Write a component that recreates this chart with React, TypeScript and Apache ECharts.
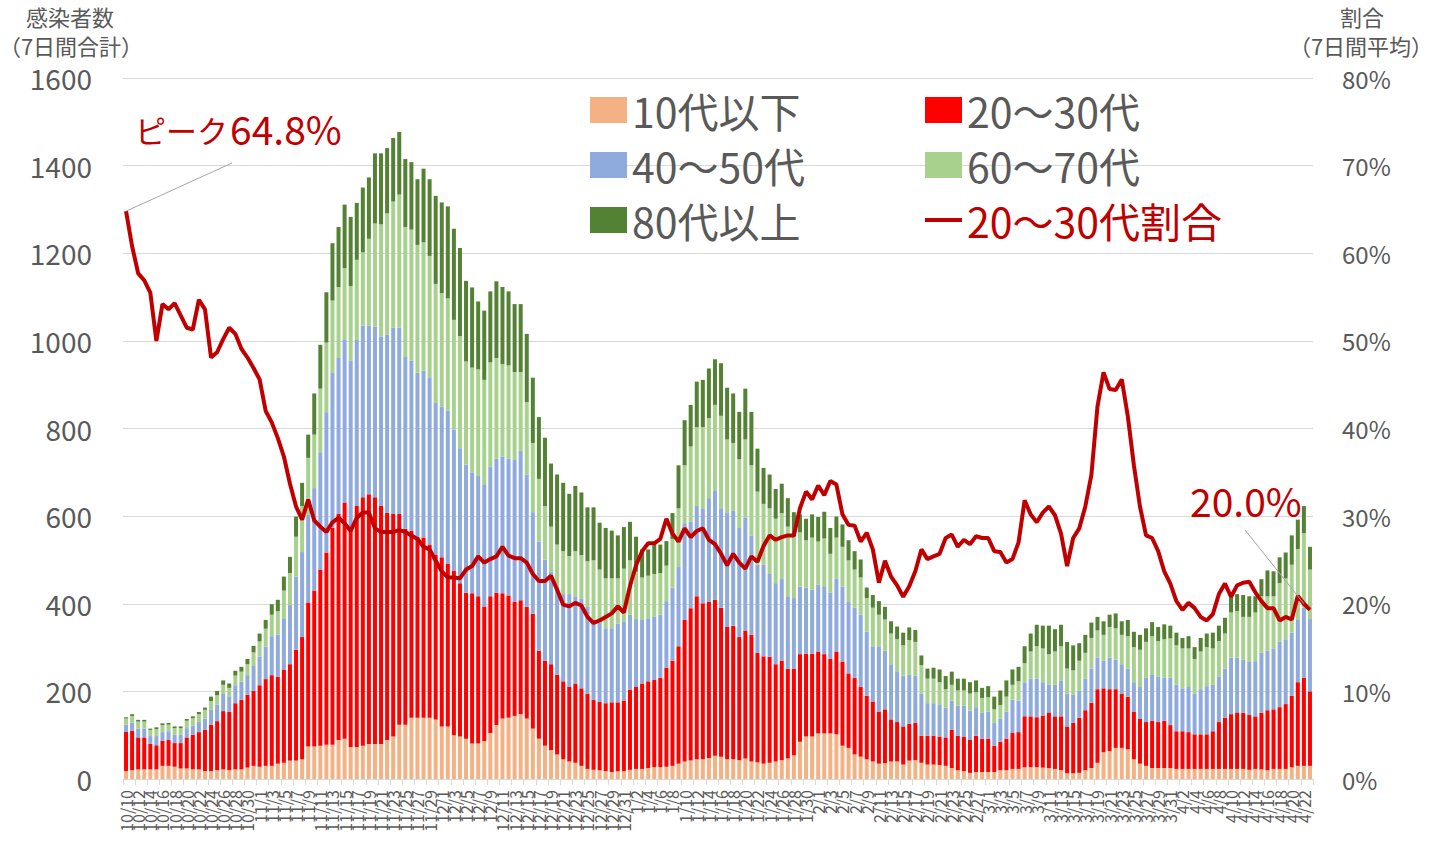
import React, { useEffect, useRef } from 'react';
import * as echarts from 'echarts';

// month, first day, last day (2020-10-10 .. 2021-04-23)
const monthSpans: number[][] = [[10, 10, 31], [11, 1, 30], [12, 1, 31], [1, 1, 31], [2, 1, 28], [3, 1, 31], [4, 1, 23]];
const categories: string[] = [];
monthSpans.forEach(([m, a, b]) => { for (let d = a; d <= b; d++) categories.push(`${m}/${d}`); });

const seriesNames = ['10代以下', '20～30代', '40～50代', '60～70代', '80代以上'];
const seriesColors = ['#F4B183', '#FF0000', '#8FAADC', '#A9D18E', '#548235'];
const lineName = '20～30代割合';

const teens = [
  18,20,22,22,22,22,30,30,28,24, 24,22,22,18,18,20,22,20,22,22, 26,30,28,30,30,35,37,42,42,45,
  74,74,76,78,78,89,92,73,73,76, 80,80,80,89,97,124,124,140,140,140, 140,136,120,120,100,97,92,81,81,87,
  105,123,138,140,144,148,138,115,92,76, 66,56,45,40,37,30,23,21,20,18, 16,18,18,21,23,23,25,27,27,28,
  30,35,40,42,45,45,48,53,51,45, 45,43,47,40,38,35,37,40,43,47, 54,85,97,97,104,104,104,102,76,71,
  56,51,45,40,35,36,40,40,33,42, 43,37,33,33,32,30,25,20,18,14, 16,16,16,16,20,20,23,23,27,27,
  27,26,25,23,20,13,13,14,20,25, 37,61,64,71,71,68,45,35,30,25, 25,25,25,23,23,23,23,23,23,23,
  23,23,23,23,23,21,23,22,20,23, 23,23,27,30,30,30,
];
const age2030 = [
  89,90,73,73,58,55,57,59,54,58, 71,79,85,94,106,112,133,133,151,159, 166,171,186,198,207,198,213,220,253,279,
  329,356,402,439,496,516,539,503,550,567, 570,563,543,518,508,481,447,426,413,411, 395,375,386,371,376,350,333,343,336,307,
  312,302,286,279,260,260,255,262,201,194, 196,182,178,170,181,177,172,160,156,155, 159,157,161,183,187,195,198,199,204,226,
  240,268,323,348,372,356,356,356,340,302, 305,281,292,289,250,245,242,222,227,205, 198,200,189,189,187,181,170,189,192,170,
  175,159,145,137,119,123,96,90,87,84, 85,62,66,66,65,65,87,79,79,75, 83,76,76,60,65,72,82,84,116,116,
  114,119,127,120,123,107,115,126,137,149, 168,146,141,134,124,120,109,103,100,108, 105,108,98,86,86,84,79,79,79,86,
  107,117,125,129,128,125,120,129,137,136, 141,148,163,191,201,170,
];
const age4050 = [
  17,19,20,20,18,21,20,20,19,19, 21,21,23,26,35,38,39,36,41,41, 45,57,65,74,89,97,117,135,167,194,
  200,234,268,320,353,356,371,379,379,392, 385,390,387,407,425,425,392,389,374,381, 382,349,344,350,322,308,293,276,276,277,
  296,306,312,312,324,341,302,232,249,231, 211,201,199,212,199,204,199,182,181,171, 169,180,181,171,155,145,144,144,144,152,
  167,181,221,197,206,217,237,250,227,260, 262,249,258,227,201,209,189,185,188,165, 161,154,151,146,153,155,151,167,171,163,
  160,165,146,126,149,134,126,116,116,112, 108,96,74,74,72,68,67,68,70,67, 65,59,62,52,53,62,76,72,78,86,
  88,76,63,72,82,75,64,62,72,78, 72,63,72,67,67,64,67,72,101,106, 103,98,108,106,98,103,93,103,110,106,
  103,112,129,125,121,121,126,137,136,139, 149,148,144,142,160,165,
];
const age6070 = [
  14,15,16,16,14,16,16,15,15,15, 17,17,18,20,19,21,21,19,22,23, 25,31,35,41,49,53,63,73,91,105,
  130,122,145,159,165,162,164,170,183,167, 198,235,256,277,288,304,297,299,292,293, 277,270,259,256,250,256,235,239,242,240,
  238,230,211,213,201,180,165,158,143,122, 103,96,98,87,103,100,103,136,121,114, 114,103,120,124,108,97,97,98,95,81,
  111,134,132,172,180,185,183,195,211,168, 155,157,178,160,167,139,150,147,149,159, 140,124,108,119,98,109,89,93,91,95,
  87,85,77,88,72,71,70,73,69,79, 77,65,56,56,52,42,36,35,35,39, 34,34,33,31,31,34,34,44,43,62,
  74,77,70,76,78,57,56,68,59,70, 62,59,70,72,67,74,80,85,82,87, 82,88,90,90,91,88,79,86,89,83,
  82,80,103,106,98,103,111,129,124,119, 134,139,155,162,170,113,
];
const age80 = [
  3,4,4,4,3,4,4,4,4,4, 4,4,5,5,10,10,10,10,11,11, 12,15,18,20,24,26,32,37,46,53,
  53,94,100,115,131,137,145,158,130,148, 140,160,162,149,145,143,155,154,150,168, 175,201,207,210,208,201,184,183,155,158,
  162,175,176,169,155,155,156,149,141,156, 144,160,156,142,149,143,123,121,107,115, 109,98,95,88,80,64,60,70,65,56,
  59,98,103,95,104,108,113,104,120,118, 113,108,116,122,98,82,77,68,67,65, 56,41,49,53,56,61,59,48,51,46,
  42,41,24,29,31,29,28,29,29,29, 27,22,23,25,29,30,30,27,27,26, 27,23,25,29,33,37,35,33,39,41,
  49,52,65,51,49,61,57,40,41,35, 31,31,28,34,31,37,35,34,31,32, 32,34,29,29,24,28,27,31,31,36,
  35,36,40,39,50,47,37,39,59,57, 59,59,67,67,62,52,
];
// 20～30代割合 (%), 7-day average
const ratio2030 = [
  64.8,60.8,57.7,56.9,55.5,50.0,54.2,53.6,54.3,52.9, 51.5,51.3,54.7,53.6,48.1,48.7,50.2,51.5,50.8,49.1,
  48.1,46.9,45.6,42.0,40.7,38.9,36.8,33.7,31.1,29.6, 31.9,29.5,
  28.8,28.2,29.3,29.8,29.2,28.3,29.8,30.4,30.4,28.6, 28.2,28.2,28.2,28.4,28.2,27.8,27.4,26.5,26.2,24.9,
  23.7,23.0,23.0,22.9,23.9,24.3,25.4,24.7,25.1,25.4, 26.5,
  25.5,25.2,25.2,24.7,23.4,22.6,22.6,23.2,21.6,19.9, 19.7,20.1,19.8,18.5,17.8,18.1,18.5,18.9,19.7,19.0,
  22.0,24.4,26.0,26.9,26.9,27.4,29.7,28.0,27.1,28.6, 27.6,28.3,
  28.6,27.3,26.8,25.7,24.4,25.7,24.7,24.0,25.4,24.8, 26.6,27.8,27.3,27.6,27.8,27.8,30.9,32.8,31.9,33.5,
  32.4,34.0,33.6,30.2,29.0,28.9,27.1,28.1,26.2,22.4, 24.9,
  23.1,22.1,20.8,22.0,23.7,26.2,25.1,25.4,25.7,27.5, 27.9,26.5,27.3,26.8,27.7,27.5,27.5,26.0,25.9,24.7,
  25.1,27.0,31.8,30.2,29.3,30.4,31.1,30.1,28.0,24.3, 27.5,
  28.6,31.1,34.7,42.5,46.4,44.5,44.4,45.6,41.4,35.8, 31.1,27.8,27.5,26.0,23.7,22.3,20.3,19.3,20.1,19.5,
  18.5,18.1,18.8,21.1,22.3,20.8,22.1,22.4,22.5,21.3, 20.3,19.5,19.5,18.1,18.5,18.2,20.9,20.0,19.3,
];
const ageData = [teens, age2030, age4050, age6070, age80];
const leftTicks = { min: 0, max: 1600, interval: 200 };
const rightTicks = { min: 0, max: 80, interval: 10 };
const peakIndex = 0;
const lastLabelIndex = 194;

const FONT = "'Noto Sans CJK JP', 'Noto Sans', sans-serif";
const GRAY = '#595959';
const DARKRED = '#C00000';

export default function App() {
  const ref = useRef<HTMLDivElement>(null);
  useEffect(() => {
    document.body.style.margin = '0';
    const chart = echarts.init(ref.current!, null, { renderer: 'svg' });
    const bars = seriesNames.map((name, i) => ({
      name,
      type: 'bar',
      stack: 'total',
      barWidth: 4,
      data: ageData[i],
      itemStyle: { color: seriesColors[i] },
      emphasis: { disabled: true },
    }));
    const legendText = { fontSize: 41, color: GRAY, fontFamily: FONT, lineHeight: 44 };
    const everyOther = (i: number) => i % 2 === 0;
    const labelStyle = { rotate: 90, fontSize: 16, color: GRAY, margin: 11, fontFamily: FONT };
    chart.setOption({
      animation: false,
      backgroundColor: '#ffffff',
      textStyle: { fontFamily: FONT },
      grid: { left: 123, right: 129, top: 78, bottom: 64, containLabel: false },
      legend: [
        {
          orient: 'vertical', left: 590, top: 88, itemWidth: 37, itemHeight: 26, itemGap: 11,
          padding: 0, selectedMode: false, textStyle: legendText,
          data: [seriesNames[0], seriesNames[2], seriesNames[4]].map((n) => ({ name: n, icon: 'rect' })),
        },
        {
          orient: 'vertical', left: 925, top: 88, itemWidth: 37, itemHeight: 26, itemGap: 11,
          padding: 0, selectedMode: false, textStyle: legendText,
          data: [
            { name: seriesNames[1], icon: 'rect' },
            { name: seriesNames[3], icon: 'rect' },
            {
              name: lineName, icon: 'path://M0,0H20V2.2H0Z',
              itemStyle: { color: DARKRED, borderWidth: 0 },
              textStyle: { color: DARKRED },
            },
          ],
        },
      ],
      xAxis: [
        {
          type: 'category',
          data: categories,
          boundaryGap: true,
          position: 'bottom',
          axisLine: { lineStyle: { color: '#d9d9d9', width: 1 } },
          axisTick: { show: true, interval: everyOther, length: 6, lineStyle: { color: '#d9d9d9' } },
          axisLabel: { ...labelStyle, interval: everyOther },
          splitLine: { show: false },
        },
        {
          // carries the first and last date labels, which the main axis drops as overlapping
          type: 'category',
          data: categories,
          boundaryGap: true,
          position: 'bottom',
          offset: 0,
          axisLine: { show: false },
          axisTick: { show: false },
          axisLabel: {
            ...labelStyle,
            interval: (i: number) => i === 0 || i === lastLabelIndex,
            showMinLabel: true,
          },
          splitLine: { show: false },
        },
      ],
      yAxis: [
        {
          type: 'value', ...leftTicks,
          axisLine: { show: false }, axisTick: { show: false },
          axisLabel: { fontSize: 28, color: GRAY, margin: 31, fontFamily: FONT, formatter: (v: number) => String(v) },
          splitLine: { lineStyle: { color: '#d9d9d9', width: 1 } },
        },
        {
          type: 'value', ...rightTicks,
          axisLine: { show: false }, axisTick: { show: false },
          axisLabel: { fontSize: 24, color: GRAY, margin: 29, fontFamily: FONT, formatter: '{value}%' },
          splitLine: { show: false },
        },
      ],
      series: [
        ...bars,
        {
          name: lineName,
          type: 'line',
          yAxisIndex: 1,
          data: ratio2030,
          symbol: 'none',
          itemStyle: { color: DARKRED },
          lineStyle: { color: DARKRED, width: 4 },
          emphasis: { disabled: true },
          z: 5,
        },
      ],
    });

    const p0 = chart.convertToPixel({ seriesIndex: 5 }, [peakIndex, ratio2030[peakIndex]]) as number[];
    const p1 = chart.convertToPixel({ seriesIndex: 5 }, [lastLabelIndex, ratio2030[lastLabelIndex]]) as number[];
    const titleStyle = { fontSize: 22, fontFamily: FONT, fill: GRAY, align: 'center', verticalAlign: 'middle' };
    chart.setOption({
      graphic: [
        { type: 'text', x: 70, y: 16, z: 50, style: { ...titleStyle, text: '感染者数' } },
        { type: 'text', x: 71, y: 45, z: 50, style: { ...titleStyle, text: '（7日間合計）' } },
        { type: 'text', x: 1362, y: 16, z: 50, style: { ...titleStyle, text: '割合' } },
        { type: 'text', x: 1361, y: 45, z: 50, style: { ...titleStyle, text: '（7日間平均）' } },
        {
          type: 'text', x: 135, y: 129, z: 50,
          style: { text: 'ピーク', fontSize: 31, fontFamily: FONT, fill: DARKRED, align: 'left', verticalAlign: 'middle' },
        },
        {
          type: 'text', x: 230, y: 128, z: 50,
          style: { text: ratio2030[peakIndex].toFixed(1) + '%', fontSize: 39, fontFamily: FONT, fill: DARKRED, align: 'left', verticalAlign: 'middle' },
        },
        {
          type: 'text', x: 1190, y: 500, z: 50,
          style: { text: ratio2030[lastLabelIndex].toFixed(1) + '%', fontSize: 39, fontFamily: FONT, fill: DARKRED, align: 'left', verticalAlign: 'middle' },
        },
        {
          type: 'line', z: 40,
          shape: { x1: 232, y1: 163, x2: p0[0], y2: p0[1] },
          style: { stroke: '#a6a6a6', lineWidth: 1 },
        },
        {
          type: 'line', z: 40,
          shape: { x1: 1245, y1: 530, x2: p1[0], y2: p1[1] },
          style: { stroke: '#a6a6a6', lineWidth: 1 },
        },
      ],
    });
    return () => chart.dispose();
  }, []);
  return (
    <div
      ref={ref}
      style={{ position: 'absolute', left: 0, top: 0, width: 1442, height: 843, background: '#ffffff' }}
    />
  );
}
